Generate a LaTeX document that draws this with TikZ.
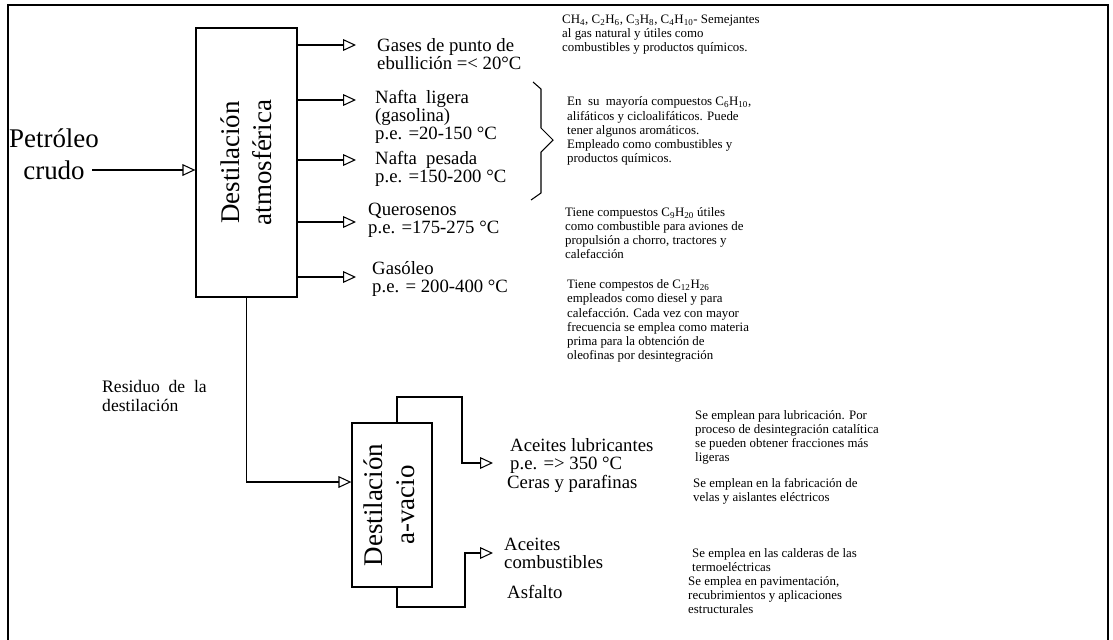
\documentclass[tikz,border=0pt]{standalone}
\usepackage{fontspec}
\setmainfont{Liberation Serif}
\usetikzlibrary{arrows.meta}

\begin{document}
\begin{tikzpicture}[x=0.03cm, y=-0.03cm,
  flecha/.style={line width=0.9pt, -{Triangle[open, length=11pt, width=10pt]}},
  caja/.style={draw, line width=1.1pt, inner sep=0pt},
  etiqueta/.style={anchor=west, align=left, inner sep=0pt, font=\fontsize{16}{15.5}\selectfont},
  nota/.style={anchor=west, align=left, inner sep=0pt, font=\fontsize{11}{12}\selectfont}]

\useasboundingbox (0,0) rectangle (1113,640);

% marco
\draw[line width=1.6pt] (8,640) -- (8,5) -- (1108,5) -- (1108,640);

% columnas de destilacion
\node[caja, minimum width=3.03cm, minimum height=8.07cm] (atm) at (246.5,162.5)
  {\hspace{4pt}\rotatebox{90}{\fontsize{23}{28}\selectfont\begin{tabular}{@{}c@{}}Destilación\\atmosférica\end{tabular}}};
\node[caja, minimum width=2.4cm, minimum height=4.92cm] (vac) at (392,505)
  {\rotatebox{90}{\fontsize{23}{28}\selectfont\begin{tabular}{@{}c@{}}Destilación\\a-vacio\end{tabular}}};

% entrada
\node[font=\fontsize{23}{27}\selectfont, align=center, inner sep=0pt] (petroleo) at (54,154) {Petróleo\\crudo};
\coordinate (entrada) at (92,170);
\draw[flecha] (entrada) -- (entrada -| atm.west);

% fracciones ligeras
\coordinate (g1) at (356,45);
\coordinate (g2) at (356,100);
\coordinate (g3) at (356,160);
\coordinate (g4) at (356,222);
\coordinate (g5) at (356,277);
\draw[flecha] (g1 -| atm.east) -- (g1);
\draw[flecha] (g2 -| atm.east) -- (g2);
\draw[flecha] (g3 -| atm.east) -- (g3);
\draw[flecha] (g4 -| atm.east) -- (g4);
\draw[flecha] (g5 -| atm.east) -- (g5);

\node[etiqueta] (gases) at (377,54) {Gases de punto de\\ebullición =< 20°C};
\node[etiqueta] (ligera) at (375,117) {Nafta\ \ ligera\\(gasolina)\\p.e. =20-150 °C};
\node[etiqueta] (pesada) at (375,169) {Nafta\ \ pesada\\p.e. =150-200 °C};
\node[etiqueta] (queros) at (368,220) {Querosenos\\p.e. =175-275 °C};
\node[etiqueta] (gasoleo) at (372,279) {Gasóleo\\p.e. = 200-400 °C};

% llave de las naftas
\draw[line width=0.9pt] (533,82) -- (541,89) -- (541,128) -- (553,140) -- (541,152) -- (541,193) -- (531,200);

\node[nota] (n1) at (562,35) {CH\textsubscript{4}, C\textsubscript{2}H\textsubscript{6}, C\textsubscript{3}H\textsubscript{8}, C\textsubscript{4}H\textsubscript{10}- Semejantes\\al gas natural y útiles como\\combustibles y productos químicos.};
\node[nota] (n2) at (567,131) {En\ \ su\ \ mayoría compuestos C\textsubscript{6}H\textsubscript{10},\\alifáticos y cicloalifáticos. Puede\\tener algunos aromáticos.\\Empleado como combustibles y\\productos químicos.};
\node[nota] (n3) at (565,233) {Tiene compuestos C\textsubscript{9}H\textsubscript{20} útiles\\como combustible para aviones de\\propulsión a chorro, tractores y\\calefacción};
\node[nota] (n4) at (567,321) {Tiene compestos de C\textsubscript{12}H\textsubscript{26}\\empleados como diesel y para\\calefacción. Cada vez con mayor\\frecuencia se emplea como materia\\prima para la obtención de\\oleofinas por desintegración};

% residuo
\node[etiqueta, font=\fontsize{15}{16}\selectfont] (residuo) at (102,396) {Residuo\ \ de\ \ la\\destilación};
\draw[flecha] (atm.south) |- ([yshift=0.69cm]vac.west);

% fracciones pesadas
\coordinate (t1) at (493,463);
\coordinate (t2) at (493,553);
\draw[flecha] ([xshift=0.15cm]vac.north) |- (462,397) |- (t1);
\draw[flecha] ([xshift=0.15cm]vac.south) |- (465,607) |- (t2);

\node[etiqueta] (lubricantes) at (510,456) {Aceites lubricantes\\p.e. => 350 °C};
\node[etiqueta] (ceras) at (507,484) {Ceras y parafinas};
\node[etiqueta] (combus) at (504,553) {Aceites\\combustibles};
\node[etiqueta] (asfalto) at (507,592) {Asfalto};

\node[nota] (n5) at (695,437) {Se emplean para lubricación. Por\\proceso de desintegración catalítica\\se pueden obtener fracciones más\\ligeras};
\node[nota] (n6) at (693,491) {Se emplean en la fabricación de\\velas y aislantes eléctricos};
\node[nota] (n7) at (692,560) {Se emplea en las calderas de las\\termoeléctricas};
\node[nota] (n8) at (688,595) {Se emplea en pavimentación,\\recubrimientos y aplicaciones\\estructurales};
\end{tikzpicture}
\end{document}
